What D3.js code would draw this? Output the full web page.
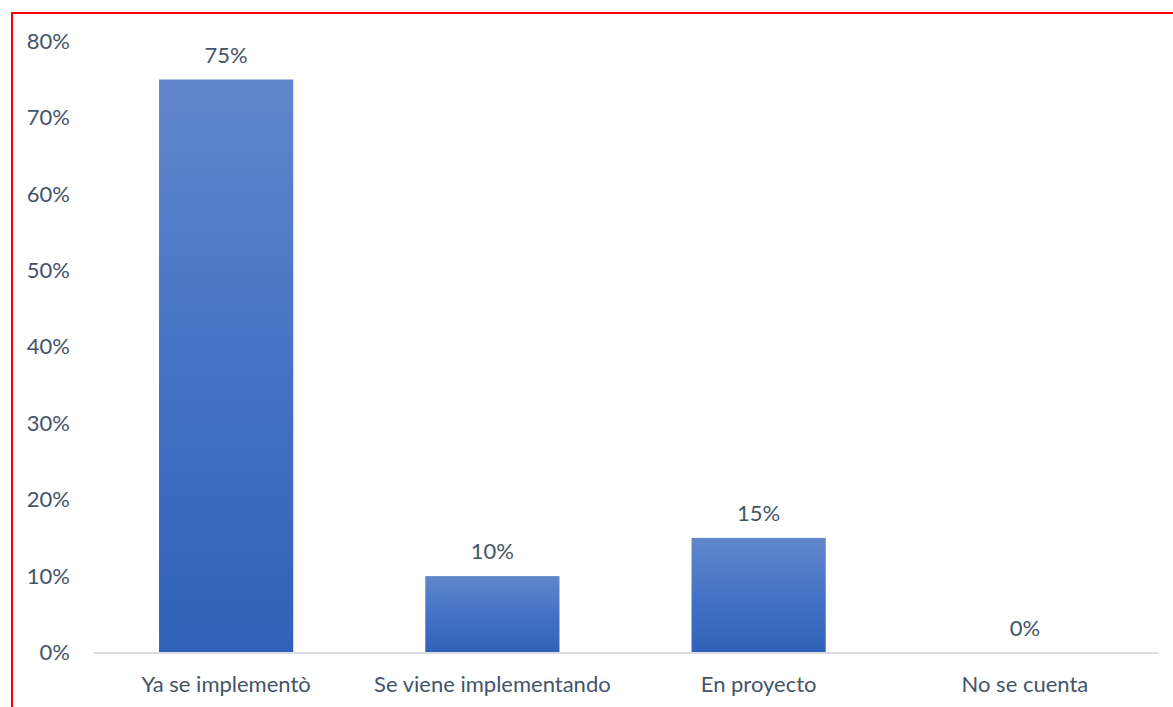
<!DOCTYPE html>
<html>
<head>
<meta charset="utf-8">
<script src="https://cdn.jsdelivr.net/npm/d3@7"></script>
<style>
  html, body { margin: 0; padding: 0; background: #fff; }
  svg { display: block; }
  text { font-family: Lato, "Open Sans", sans-serif; fill: #44546A; }
</style>
</head>
<body>
<svg id="chart" width="1173" height="707"></svg>
<script>
// Survey responses (share of respondents)
const categories = ["Ya se implementò", "Se viene implementando", "En proyecto", "No se cuenta"];
const values = [0.75, 0.10, 0.15, 0.00];
const tickValues = [0, 0.1, 0.2, 0.3, 0.4, 0.5, 0.6, 0.7, 0.8];

const svg = d3.select("#chart");
const fontSize = 22;

// Plot area
const plot = { left: 93, right: 1158, top: 41.3, bottom: 652.5 };

const x = d3.scaleBand()
  .domain(categories)
  .range([plot.left, plot.right])
  .paddingInner(0.496)
  .paddingOuter(0.248);

const y = d3.scaleLinear()
  .domain([0, 0.8])
  .range([plot.bottom, plot.top]);

const pct = d3.format(".0%");

// Vertical gradient used by every bar
const defs = svg.append("defs");
const grad = defs.append("linearGradient")
  .attr("id", "barFill")
  .attr("x1", 0).attr("y1", 0).attr("x2", 0).attr("y2", 1);
grad.append("stop").attr("offset", "0%").attr("stop-color", "#6187cb");
grad.append("stop").attr("offset", "50%").attr("stop-color", "#4472c4");
grad.append("stop").attr("offset", "100%").attr("stop-color", "#2f62b8");

// Y axis labels (no axis line, no gridlines)
const yAxis = d3.axisLeft(y)
  .tickValues(tickValues)
  .tickFormat(pct)
  .tickSize(0)
  .tickPadding(0);
const yg = svg.append("g")
  .attr("transform", "translate(70,0)")
  .call(yAxis);
yg.select(".domain").remove();
yg.selectAll("text")
  .attr("font-size", fontSize)
  .attr("font-family", null)
  .attr("fill", "#44546A");

// Bars
svg.append("g")
  .selectAll("rect")
  .data(values)
  .join("rect")
  .attr("x", (d, i) => x(categories[i]))
  .attr("width", x.bandwidth())
  .attr("y", d => y(d))
  .attr("height", d => y(0) - y(d))
  .attr("fill", "url(#barFill)");

// Category axis
const xAxis = d3.axisBottom(x).tickSize(0).tickPadding(0);
const xg = svg.append("g")
  .attr("transform", `translate(0,${plot.bottom})`)
  .call(xAxis);
xg.select(".domain")
  .attr("stroke", "#d9dee6")
  .attr("stroke-width", 2);
xg.selectAll("text")
  .attr("font-size", fontSize)
  .attr("font-family", null)
  .attr("fill", "#44546A")
  .attr("dy", null)
  .attr("y", 39.5);

// Value labels above bars
svg.append("g")
  .selectAll("text")
  .data(values)
  .join("text")
  .attr("x", (d, i) => x(categories[i]) + x.bandwidth() / 2)
  .attr("y", d => y(d) - 17)
  .attr("text-anchor", "middle")
  .attr("font-size", fontSize)
  .text(d => pct(d));

// Frame
svg.append("rect")
  .attr("x", 12).attr("y", 13)
  .attr("width", 1200).attr("height", 750)
  .attr("fill", "none")
  .attr("stroke", "#ff0000")
  .attr("stroke-width", 2);
</script>
</body>
</html>
